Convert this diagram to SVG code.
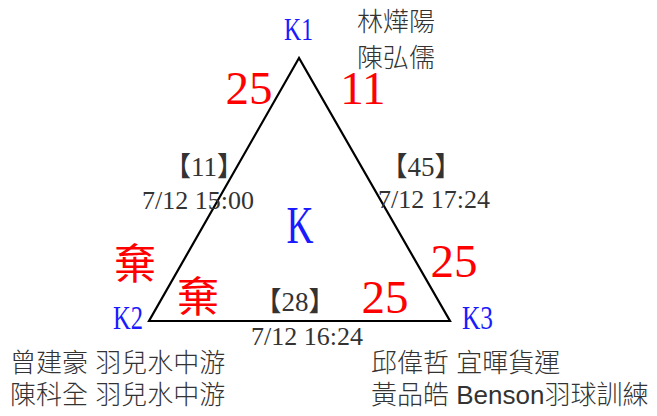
<svg xmlns="http://www.w3.org/2000/svg" width="657" height="416" viewBox="0 0 657 416">
<style>
.serif{font-family:"Liberation Serif","Noto Sans CJK TC",serif;}
.sans{font-family:"Liberation Sans","Noto Sans CJK TC",sans-serif;fill:#333;font-weight:300;}
.blue{fill:#1a1aff;}
.red{fill:#ff0000;}
.num{fill:#333;}
.edge{stroke:#000;stroke-width:2.2;fill:none;stroke-linejoin:miter;}
</style>
<rect width="657" height="416" fill="#fff"/>
<g id="connectors">
<path class="edge" d="M299,58 L149,321 L450,321 Z"/>
</g>
<g id="K1">
<text class="serif blue" x="284" y="40" font-size="32" textLength="29" lengthAdjust="spacingAndGlyphs">K1</text>
<text class="sans" x="357" y="31" font-size="26">林燁陽</text>
<text class="sans" x="357" y="67" font-size="26">陳弘儒</text>
</g>
<g id="K2">
<text class="serif blue" x="113" y="329" font-size="33" textLength="30" lengthAdjust="spacingAndGlyphs">K2</text>
<text class="sans" x="10" y="372" font-size="26">曾建豪 羽兒水中游</text>
<text class="sans" x="10" y="404" font-size="26">陳科全 羽兒水中游</text>
</g>
<g id="K3">
<text class="serif blue" x="462" y="329" font-size="33" textLength="31" lengthAdjust="spacingAndGlyphs">K3</text>
<text class="sans" x="371" y="372" font-size="26">邱偉哲 宜暉貨運</text>
<text class="sans" x="371" y="404" font-size="26">黃品皓 Benson羽球訓練</text>
</g>
<g id="K">
<text class="serif blue" x="300" y="243" font-size="52" text-anchor="middle" textLength="27" lengthAdjust="spacingAndGlyphs">K</text>
</g>
<g id="edge-labels">
<text class="serif red" x="249" y="104" font-size="47" text-anchor="middle">25</text>
<text class="serif red" x="363" y="104" font-size="47" text-anchor="middle">11</text>
<text class="serif red" x="454" y="277" font-size="47" text-anchor="middle">25</text>
<text class="serif red" x="385" y="313" font-size="47" text-anchor="middle">25</text>
<text class="sans red" x="135" y="279" font-size="42" text-anchor="middle" style="fill:#ff0000;font-weight:400">棄</text>
<text class="sans red" x="198" y="312" font-size="42" text-anchor="middle" style="fill:#ff0000;font-weight:400">棄</text>
<text class="serif num" x="204" y="176" font-size="27" text-anchor="middle">【11】</text>
<text class="serif num" x="198" y="209" font-size="26" text-anchor="middle">7/12 15:00</text>
<text class="serif num" x="421" y="176" font-size="27" text-anchor="middle">【45】</text>
<text class="serif num" x="434" y="208" font-size="26" text-anchor="middle">7/12 17:24</text>
<text class="serif num" x="295" y="311" font-size="27" text-anchor="middle">【28】</text>
<text class="serif num" x="307" y="345" font-size="26" text-anchor="middle">7/12 16:24</text>
</g>
</svg>
